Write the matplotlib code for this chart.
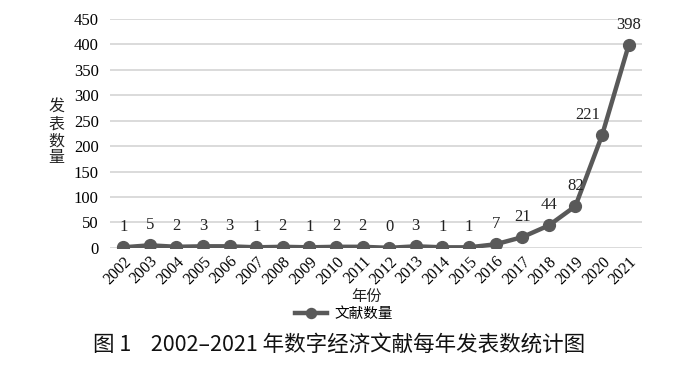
import numpy as np
import matplotlib.pyplot as plt

# data
years = [str(y) for y in range(2002, 2022)]
counts = [1, 5, 2, 3, 3, 1, 2, 1, 2, 2, 0, 3, 1, 1, 7, 21, 44, 82, 221, 398]
y_ticks = [0, 50, 100, 150, 200, 250, 300, 350, 400, 450]

serif = ['Liberation Serif', 'Noto Sans CJK SC']
cjk = ['Noto Sans CJK SC', 'DejaVu Sans']
plt.rcParams['font.family'] = serif

fig = plt.figure(figsize=(7, 3.65), dpi=100)
ax = fig.add_axes([0.157, 0.321, 0.76, 0.627])

x = np.arange(len(years))
line_color = '#595959'
ax.plot(x, counts, color=line_color, lw=3.2, marker='o', ms=8.5,
        label='文献数量', zorder=3)

# value labels above each point
for i, v in enumerate(counts):
    dx = -10 if v == 221 else 0
    ax.annotate(str(v), (i, v), xytext=(dx, 9), textcoords='offset points',
                ha='center', va='bottom', fontsize=12, color='#222222')

ax.set_xlim(-0.5, len(years) - 0.5)
ax.set_ylim(0, 450)
ax.set_yticks(y_ticks)
ax.set_xticks(x)
ax.set_xticklabels(years, rotation=45, ha='right', rotation_mode='anchor',
                   fontsize=11.5)
ax.tick_params(axis='y', labelsize=12, length=0, pad=8)
ax.tick_params(axis='x', length=0, pad=4)
ax.grid(axis='y', color='#d4d4d4', lw=1.2)
ax.set_axisbelow(True)
for s in ax.spines.values():
    s.set_visible(False)

# vertical stacked y label
fig.text(0.081, 0.638, '发\n表\n数\n量', family=cjk, fontsize=11.5,
         ha='center', va='center', linespacing=1.0, color='#222222')
fig.text(0.523, 0.187, '年份', family=cjk, fontsize=11, ha='center',
         va='center', color='#222222')

leg = ax.legend(loc='center', bbox_to_anchor=(0.44, -0.29), frameon=False,
                prop={'family': cjk, 'size': 10.5}, handlelength=2.2,
                handletextpad=0.5, markerscale=0.85)

fig.text(0.133, 0.055, '图 1    2002–2021 年数字经济文献每年发表数统计图',
         family=cjk, fontsize=15.5, weight='medium', ha='left', va='center',
         color='#111111')

fig.savefig('out.png', dpi=100, facecolor='white')
